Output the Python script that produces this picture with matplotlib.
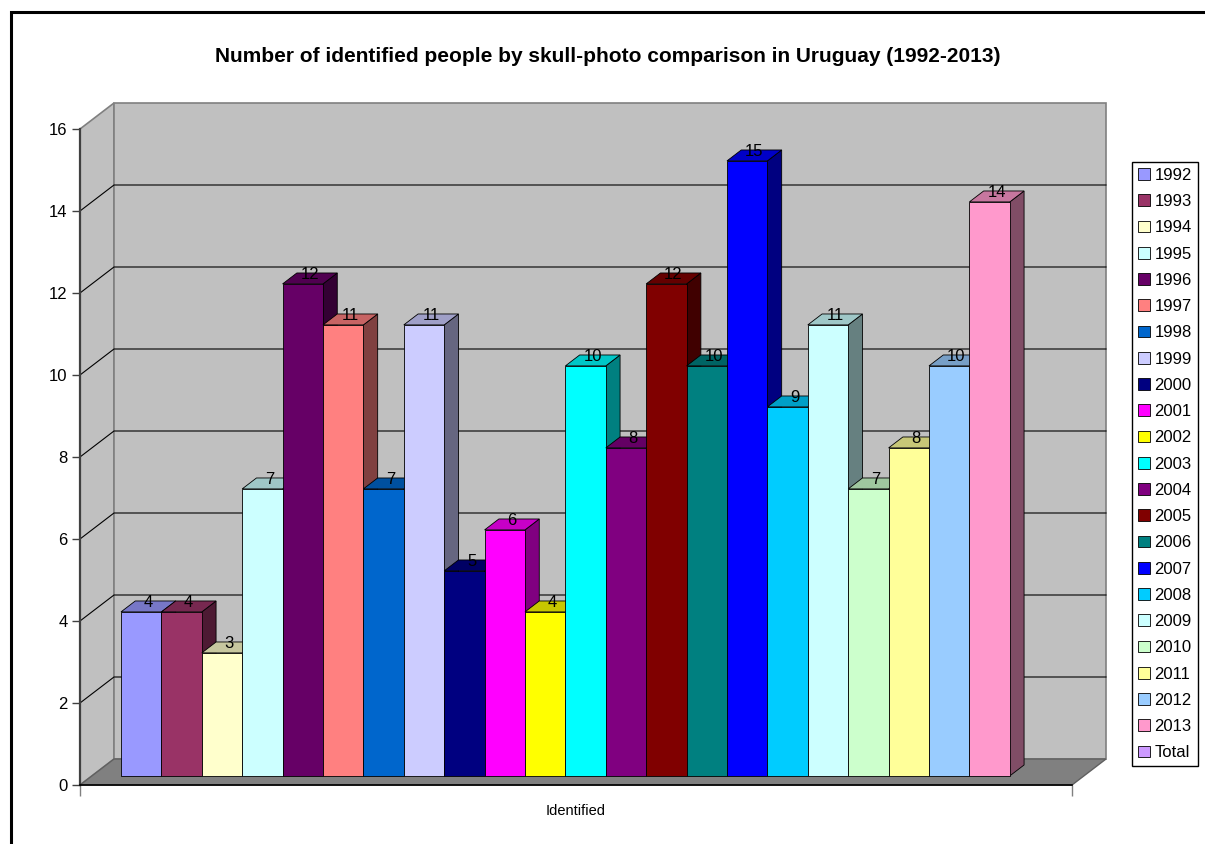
import matplotlib
matplotlib.use("Agg")
import matplotlib.pyplot as plt
from matplotlib.patches import Polygon, Rectangle, Patch
from matplotlib.colors import to_rgb
import numpy as np

plt.rcParams['font.family'] = ['Liberation Sans', 'DejaVu Sans']

title = "Number of identified people by skull-photo comparison in Uruguay (1992-2013)"
category = "Identified"
series = ["1992", "1993", "1994", "1995", "1996", "1997", "1998", "1999", "2000",
          "2001", "2002", "2003", "2004", "2005", "2006", "2007", "2008", "2009",
          "2010", "2011", "2012", "2013", "Total"]
values = [4, 4, 3, 7, 12, 11, 7, 11, 5, 6, 4, 10, 8, 12, 10, 15, 9, 11, 7, 8, 10, 14, 0]
colors = ["#9999FF", "#993366", "#FFFFCC", "#CCFFFF", "#660066", "#FF8080", "#0066CC",
          "#CCCCFF", "#000080", "#FF00FF", "#FFFF00", "#00FFFF", "#800080", "#800000",
          "#008080", "#0000FF", "#00CCFF", "#CCFFFF", "#CCFFCC", "#FFFF99", "#99CCFF",
          "#FF99CC", "#CC99FF"]
yticks = [0, 2, 4, 6, 8, 10, 12, 14, 16]

W, H = 1205, 844
fig = plt.figure(figsize=(W / 100, H / 100), dpi=100)

# frame around chart area
fig.patches.append(Rectangle((11 / W, -0.05), 1.2, 1 - 12 / H + 0.05, transform=fig.transFigure,
                             fill=False, edgecolor="black", linewidth=2.2))

# axes = front plane of the 3D box
ax = fig.add_axes([80 / W, (H - 785) / H, 992 / W, 656 / H])
XMAX = 992 / 40.4
YMAX = 16
ax.set_xlim(0, XMAX)
ax.set_ylim(0, YMAX)
ax.patch.set_visible(False)
for s in ["top", "right"]:
    ax.spines[s].set_visible(False)
ax.spines["left"].set_color("#404040")
ax.spines["left"].set_linewidth(1.6)
ax.spines["bottom"].set_color("black")
ax.spines["bottom"].set_linewidth(1.2)
ax.spines["left"].set_zorder(6)
ax.spines["bottom"].set_zorder(6)

DX = 34 / 40.4   # depth in x-data units
DY = 26 / 41.0   # depth in y-data units

wall_c = "#C0C0C0"
edge_c = "#808080"
# side wall
ax.add_patch(Polygon([(0, 0), (DX, DY), (DX, YMAX + DY), (0, YMAX)], closed=True,
                     facecolor=wall_c, edgecolor=edge_c, lw=1.2, clip_on=False, zorder=0))
# back wall
ax.add_patch(Polygon([(DX, DY), (XMAX + DX, DY), (XMAX + DX, YMAX + DY), (DX, YMAX + DY)], closed=True,
                     facecolor=wall_c, edgecolor=edge_c, lw=1.2, clip_on=False, zorder=0))
# gridlines
for v in yticks[1:-1]:
    ax.plot([0, DX, XMAX + DX], [v, v + DY, v + DY], color="black", lw=0.8, clip_on=False, zorder=1)
# floor
ax.add_patch(Polygon([(0, 0), (XMAX, 0), (XMAX + DX, DY), (DX, DY)], closed=True,
                     facecolor="#808080", edgecolor="#606060", lw=1.0, clip_on=False, zorder=2))

# bars
d0, d1 = 0.35, 0.77
margin = 0.72
z = 3
for i, (v, c) in enumerate(zip(values, colors)):
    if v == 0:
        continue
    x0 = margin + i
    x1 = x0 + 1
    rgb = np.array(to_rgb(c))
    side = tuple(rgb * 0.5)
    top = tuple(rgb * 0.78)
    ax.add_patch(Polygon([(x1 + d0 * DX, d0 * DY), (x1 + d1 * DX, d1 * DY),
                          (x1 + d1 * DX, v + d1 * DY), (x1 + d0 * DX, v + d0 * DY)], closed=True,
                         facecolor=side, edgecolor="black", lw=0.6, clip_on=False, zorder=z))
    ax.add_patch(Polygon([(x0 + d0 * DX, v + d0 * DY), (x1 + d0 * DX, v + d0 * DY),
                          (x1 + d1 * DX, v + d1 * DY), (x0 + d1 * DX, v + d1 * DY)], closed=True,
                         facecolor=top, edgecolor="black", lw=0.6, clip_on=False, zorder=z))
    ax.bar(x0 + d0 * DX, v, bottom=d0 * DY, width=1, align="edge", color=c,
           edgecolor="black", linewidth=0.6, zorder=z, clip_on=False)
    z += 0.01

# data labels
dm = (d0 + d1) / 2
for i, v in enumerate(values):
    if v == 0:
        continue
    xc = margin + i + 0.5 + dm * DX
    ax.annotate(str(v), xy=(xc, v + dm * DY), xytext=(0, 2.5), textcoords="offset points",
                ha="center", va="center", fontsize=12, color="black", zorder=10,
                annotation_clip=False)

# y axis
ax.set_yticks(yticks)
ax.set_yticklabels([str(t) for t in yticks], fontsize=12)
ax.tick_params(axis="y", direction="out", length=6, width=1, color="#404040", pad=3)
# x axis
ax.set_xticks([0, XMAX])
ax.set_xticklabels(["", ""])
ax.tick_params(axis="x", direction="out", length=8, width=1, color="#808080")
ax.set_xticks([XMAX / 2], minor=True)
ax.set_xticklabels([category], minor=True, fontsize=10.5)
ax.tick_params(axis="x", which="minor", length=0, pad=14)

# title
fig.text(608 / W, 1 - 57 / H, title, ha="center", va="center", fontsize=15, fontweight="bold")

# legend
handles = [Patch(facecolor=c, edgecolor="black", linewidth=0.6) for c in colors]
leg = fig.legend(handles, series, loc="upper left",
                 bbox_to_anchor=(1132 / W, 1 - 162 / H), fontsize=12,
                 frameon=True, fancybox=False, edgecolor="black", framealpha=1,
                 handlelength=0.7, handleheight=0.7, handletextpad=0.3,
                 borderpad=0.35, labelspacing=0.675, borderaxespad=0)
leg.get_frame().set_linewidth(1.0)

fig.savefig("out.png", dpi=100)
